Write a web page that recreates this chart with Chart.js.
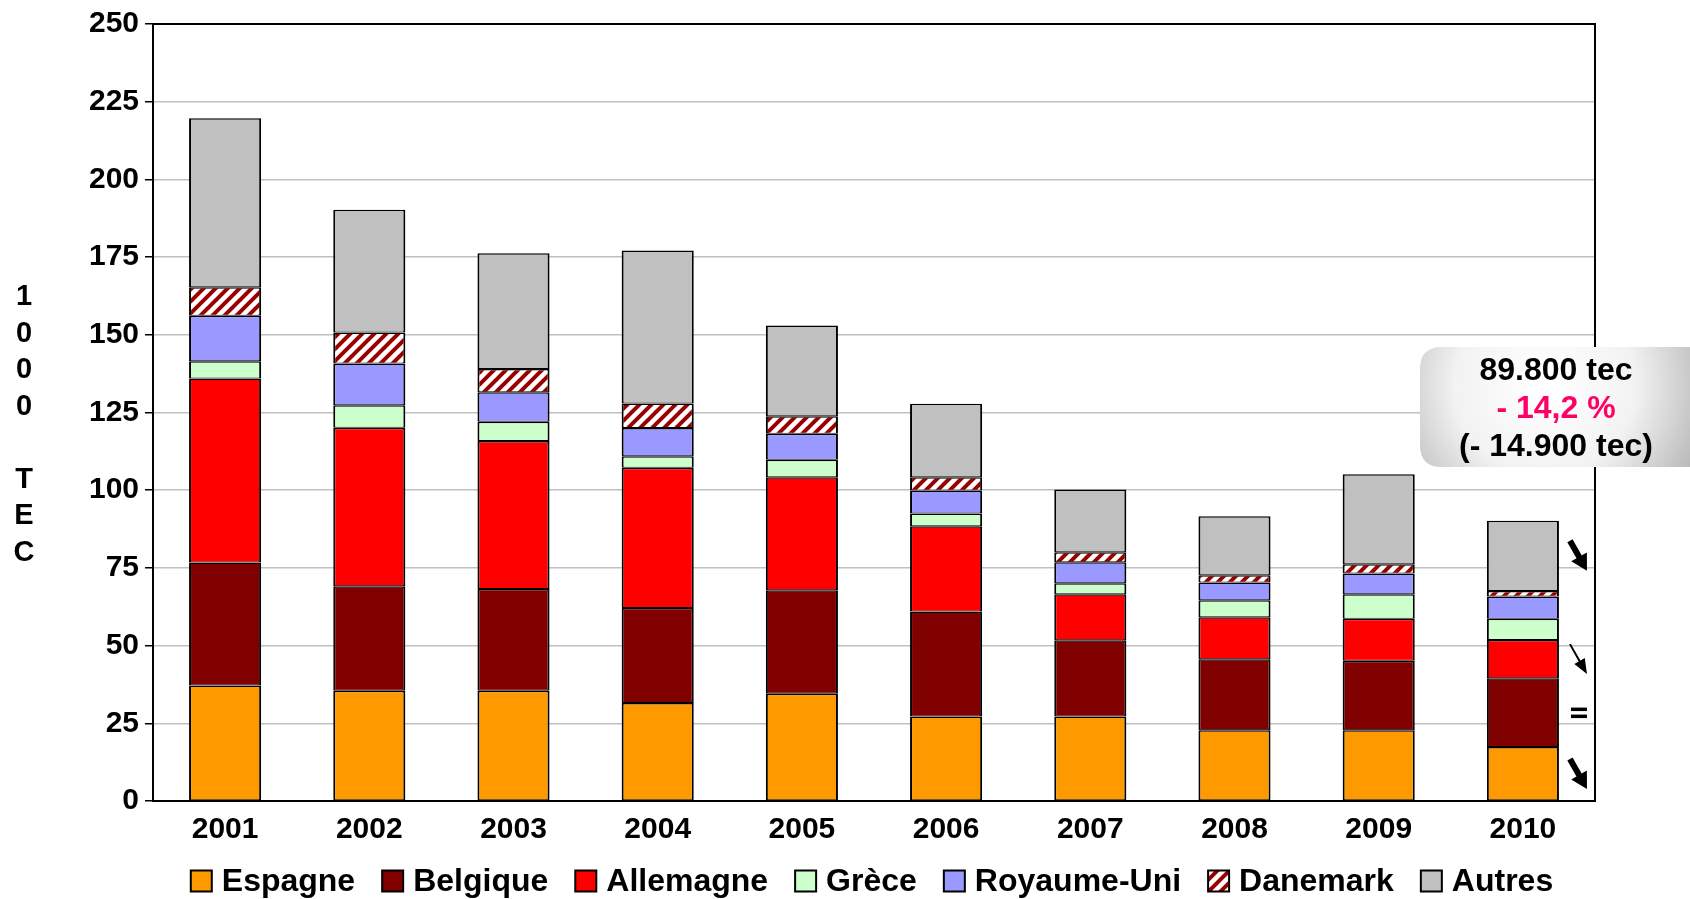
<!DOCTYPE html>
<html>
<head>
<meta charset="utf-8">
<script src="https://cdn.jsdelivr.net/npm/chart.js@4.4.1/dist/chart.umd.min.js"></script>
<style>
  html, body { margin: 0; padding: 0; background: #fff; overflow: hidden; }
  #wrap { width: 1690px; height: 899px; }
</style>
</head>
<body>
<div id="wrap"><canvas id="coalChart" width="1690" height="899"></canvas></div>
<script>
// Données (milliers de tec)
const years = ["2001", "2002", "2003", "2004", "2005", "2006", "2007", "2008", "2009", "2010"];
const espagne = [37.2, 35.5, 35.5, 31.5, 34.5, 27.2, 27.2, 22.8, 22.8, 17.4];
const belgique = [39.5, 33.6, 32.7, 30.6, 33.3, 33.8, 24.5, 22.8, 22.3, 22.1];
const allemagne = [59.2, 51.0, 47.6, 45.1, 36.4, 27.4, 14.8, 13.5, 13.5, 12.3];
const grece = [5.6, 7.2, 6.2, 3.7, 5.6, 4.1, 3.6, 5.5, 7.9, 6.8];
const royaumeUni = [14.6, 13.5, 9.5, 9.1, 8.4, 7.4, 6.7, 5.7, 6.7, 7.2];
const danemark = [9.2, 9.9, 7.5, 7.9, 5.6, 4.3, 3.2, 2.3, 3.0, 1.8];
const autres = [54.4, 39.5, 37.2, 49.2, 29.2, 23.6, 20.2, 19.0, 28.9, 22.6];

const yTicks = [0, 25, 50, 75, 100, 125, 150, 175, 200, 225, 250];
const yTitle = ["1", "0", "0", "0", "", "T", "E", "C"];
const calloutLines = ["89.800 tec", "- 14,2 %", "(- 14.900 tec)"];
// tendances 2010 : index du dataset et type de symbole
const trendMarks = [
  { dataset: 6, kind: "thick" },
  { dataset: 2, kind: "thin" },
  { dataset: 1, kind: "equal" },
  { dataset: 0, kind: "thick" },
];

const FONT = "'Liberation Sans', Arial, sans-serif";

// hachures pour le Danemark
function makeStripes() {
  const c = document.createElement("canvas");
  c.width = 12;
  c.height = 12;
  const g = c.getContext("2d");
  g.fillStyle = "#ffffff";
  g.fillRect(0, 0, 12, 12);
  g.strokeStyle = "#990000";
  g.lineWidth = 4;
  g.beginPath();
  g.moveTo(-3, 15); g.lineTo(15, -3);
  g.moveTo(-9, 9); g.lineTo(9, -9);
  g.moveTo(3, 21); g.lineTo(21, 3);
  g.stroke();
  return g.createPattern(c, "repeat");
}
const stripes = makeStripes();

function ds(label, data, color) {
  return {
    label: label,
    data: data,
    backgroundColor: color,
    borderColor: "#000000",
    borderWidth: { left: 2, right: 2, top: 1.5, bottom: 1 },
    borderSkipped: false,
    barPercentage: 0.5,
    categoryPercentage: 1.0,
  };
}

function drawArrow(ctx, x1, y1, x2, y2, shaftW, headLen, headW) {
  const dx = x2 - x1, dy = y2 - y1;
  const len = Math.sqrt(dx * dx + dy * dy);
  const ux = dx / len, uy = dy / len;
  const bx = x2 - ux * headLen, by = y2 - uy * headLen;
  ctx.save();
  ctx.strokeStyle = "#000";
  ctx.fillStyle = "#000";
  ctx.lineWidth = shaftW;
  ctx.beginPath();
  ctx.moveTo(x1, y1);
  ctx.lineTo(bx + ux * 2, by + uy * 2);
  ctx.stroke();
  ctx.beginPath();
  ctx.moveTo(x2, y2);
  ctx.lineTo(bx - uy * headW / 2, by + ux * headW / 2);
  ctx.lineTo(bx + uy * headW / 2, by - ux * headW / 2);
  ctx.closePath();
  ctx.fill();
  ctx.restore();
}

const decorations = {
  id: "decorations",
  afterDraw(chart) {
    const ctx = chart.ctx;
    const area = chart.chartArea;
    const yScale = chart.scales.y;

    // cadre du graphique
    ctx.save();
    ctx.strokeStyle = "#000";
    ctx.lineWidth = 2;
    ctx.strokeRect(area.left, area.top, area.right - area.left, area.bottom - area.top);
    ctx.restore();

    // titre vertical "1000 TEC"
    ctx.save();
    ctx.fillStyle = "#000";
    ctx.font = "bold 29px " + FONT;
    ctx.textAlign = "center";
    ctx.textBaseline = "middle";
    yTitle.forEach((ch, i) => {
      ctx.fillText(ch, 24, 297 + i * 36.5);
    });
    ctx.restore();

    // flèches de tendance pour 2010
    const last = years.length - 1;
    const bar = chart.getDatasetMeta(0).data[last];
    const cx = bar.x + bar.width / 2 + 19;
    trendMarks.forEach((m) => {
      let base = 0;
      for (let i = 0; i < m.dataset; i++) base += chart.data.datasets[i].data[last];
      const mid = base + chart.data.datasets[m.dataset].data[last] / 2;
      const cy = yScale.getPixelForValue(mid);
      if (m.kind === "thick") {
        drawArrow(ctx, cx - 8, cy - 15, cx + 9, cy + 15, 6, 16, 18);
      } else if (m.kind === "thin") {
        drawArrow(ctx, cx - 8, cy - 15, cx + 9, cy + 15, 2, 15, 12);
      } else {
        ctx.save();
        ctx.fillStyle = "#000";
        ctx.fillRect(cx - 7, cy - 5, 16, 3.5);
        ctx.fillRect(cx - 7, cy + 2, 16, 3.5);
        ctx.restore();
      }
    });

    // légende
    ctx.save();
    ctx.font = "bold 32px " + FONT;
    ctx.textBaseline = "middle";
    ctx.textAlign = "left";
    const items = chart.data.datasets.map((d) => ({
      label: d.label,
      color: d.backgroundColor,
      w: ctx.measureText(d.label).width,
    }));
    const box = 21, gap = 10, spacing = 27, ly = 881;
    let total = spacing * (items.length - 1);
    items.forEach((it) => { total += box + gap + it.w; });
    let lx = 872 - total / 2;
    items.forEach((it) => {
      ctx.fillStyle = it.color;
      ctx.fillRect(lx, ly - box / 2, box, box);
      ctx.strokeStyle = "#000";
      ctx.lineWidth = 2;
      ctx.strokeRect(lx, ly - box / 2, box, box);
      ctx.fillStyle = "#000";
      ctx.fillText(it.label, lx + box + gap, ly + 1);
      lx += box + gap + it.w + spacing;
    });
    ctx.restore();

    // encadré 2010
    const bx = 1420, by = 347, bw = 290, bh = 120, r = 22;
    ctx.save();
    const grad = ctx.createRadialGradient(1545, 385, 10, 1545, 385, 190);
    grad.addColorStop(0, "#ffffff");
    grad.addColorStop(0.45, "#f2f2f2");
    grad.addColorStop(1, "#a8a8a8");
    ctx.fillStyle = grad;
    ctx.beginPath();
    ctx.moveTo(bx + r, by);
    ctx.lineTo(bx + bw - r, by);
    ctx.quadraticCurveTo(bx + bw, by, bx + bw, by + r);
    ctx.lineTo(bx + bw, by + bh - r);
    ctx.quadraticCurveTo(bx + bw, by + bh, bx + bw - r, by + bh);
    ctx.lineTo(bx + r, by + bh);
    ctx.quadraticCurveTo(bx, by + bh, bx, by + bh - r);
    ctx.lineTo(bx, by + r);
    ctx.quadraticCurveTo(bx, by, bx + r, by);
    ctx.closePath();
    ctx.fill();
    ctx.font = "bold 32px " + FONT;
    ctx.textAlign = "center";
    ctx.textBaseline = "middle";
    const colors = ["#000000", "#ff0066", "#000000"];
    calloutLines.forEach((t, i) => {
      ctx.fillStyle = colors[i];
      ctx.fillText(t, 1556, 371 + i * 38);
    });
    ctx.restore();
  },
};

const ctx = document.getElementById("coalChart").getContext("2d");
const coalChart = new Chart(ctx, {
  type: "bar",
  data: {
    labels: years,
    datasets: [
      ds("Espagne", espagne, "#ff9900"),
      ds("Belgique", belgique, "#800000"),
      ds("Allemagne", allemagne, "#ff0000"),
      ds("Grèce", grece, "#ccffcc"),
      ds("Royaume-Uni", royaumeUni, "#9999ff"),
      ds("Danemark", danemark, stripes),
      ds("Autres", autres, "#c0c0c0"),
    ],
  },
  options: {
    responsive: false,
    animation: false,
    events: [],
    layout: {
      padding: { left: 0, right: 95, top: 24, bottom: 60 },
    },
    scales: {
      x: {
        stacked: true,
        grid: { display: false, drawTicks: false },
        border: { color: "#000", width: 2 },
        ticks: {
          color: "#000",
          padding: 11,
          font: { family: FONT, size: 30, weight: "bold" },
        },
        afterFit(scale) {
          scale.height = 38;
        },
      },
      y: {
        stacked: true,
        min: 0,
        max: 250,
        grid: { color: "#c0c0c0", lineWidth: 1.5, tickColor: "#000", tickLength: 8 },
        border: { color: "#000", width: 2 },
        afterBuildTicks(scale) {
          scale.ticks = yTicks.map((v) => ({ value: v }));
        },
        ticks: {
          color: "#000",
          padding: 6,
          font: { family: FONT, size: 30, weight: "bold" },
        },
        afterFit(scale) {
          scale.width = 153;
        },
      },
    },
    plugins: {
      tooltip: { enabled: false },
      legend: { display: false },
    },
  },
  plugins: [decorations],
});
</script>
</body>
</html>
